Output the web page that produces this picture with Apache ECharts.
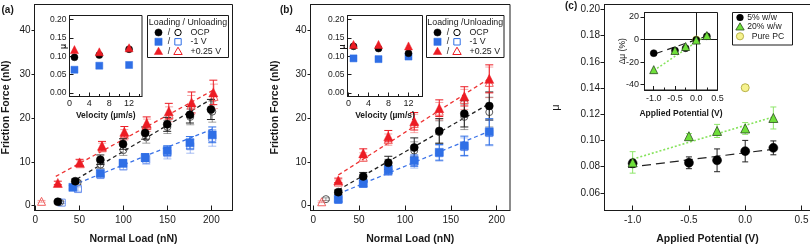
<!DOCTYPE html>
<html><head><meta charset="utf-8">
<script src="https://cdn.jsdelivr.net/npm/echarts@6/dist/echarts.min.js"></script>
<style>html,body{margin:0;padding:0;background:#fff}#c{width:810px;height:247px}</style>
</head><body><div id="c"></div>
<script>
// ================= DATA =================
// Panel (a): [normal load nN, friction nN, error nN]
const aOCP      = [[25.5,0.9,0.3],[45.3,5.6,0.5],[73.8,10.5,1.1],[99.6,14.1,1.2],[124.7,16.6,1.4],[149.8,18.6,1.6],[175.6,20.8,1.9],[199.5,22.0,2.3]];
const aOCPun    = [[28,0.8,0.3],[48,5.3,0.5],[74,9.4,0.9],[100,12.7,1.2],[126,15.6,1.3],[150,18.0,1.5],[176,20.3,1.8],[201,21.5,2.4]];
const aNeg      = [[42.6,4.2,0.4],[73.8,7.4,0.6],[99.6,9.7,0.8],[124.7,11.0,0.9],[149.8,12.6,1.1],[175.6,14.4,1.4],[201,16.2,1.8]];
const aNegUn    = [[30,0.7,0.2],[48.4,3.8,0.5],[74,7.0,0.6],[100,9.0,0.8],[126,10.5,1.0],[150,12.0,1.3],[176,13.6,1.6],[201,15.5,1.9]];
const aPos      = [[25.5,5.2,0.4],[50.2,9.9,0.7],[75.7,13.7,1.0],[101.1,16.9,1.2],[126.5,18.9,1.4],[151.6,21.6,1.8],[177.5,23.6,2.4],[202.2,25.9,2.8]];
const aPosUn    = [[7,1.0,0.2],[51,9.6,0.7],[76,13.3,1.0],[101,16.2,1.2],[127,18.4,1.4],[152,20.9,1.7],[177,23.0,2.2],[203,25.0,2.8]];
const aFitOCP   = [[47.2,6.1],[201,24.5]];
const aFitNeg   = [[49,5.2],[201,17.5]];
const aFitPos   = [[23.2,6.7],[202,26.4]];
// Panel (b)
const bOCP      = [[27.3,3.1,0.5],[54.5,6.7,0.9],[81.8,9.8,1.5],[110.1,13.3,2.2],[137.4,17.1,2.8],[164.7,21.0,3.0],[191.9,22.8,3.2]];
const bOCPun    = [[13.8,1.5,0.3],[27.3,3.0,0.5],[54.5,6.3,0.9],[81.8,9.2,1.4],[110.1,12.6,2.0],[137.4,16.8,2.6],[164.7,20.3,2.9],[191.9,21.4,3.4]];
const bNeg      = [[27.3,1.5,0.5],[54.5,5.1,0.7],[81.8,8.2,1.0],[110.1,10.3,1.3],[137.4,12.2,1.8],[164.7,13.7,2.2],[191.9,16.9,3.0]];
const bNegUn    = [[27.3,1.3,0.4],[54.5,5.0,0.7],[81.8,7.9,1.0],[110.1,10.0,1.4],[137.4,12.0,1.8],[164.7,13.4,2.1],[191.9,16.6,2.9]];
const bPos      = [[27.3,5.8,0.5],[54.5,12.0,1.0],[81.8,15.9,1.3],[110.1,19.3,2.0],[137.4,22.3,1.9],[164.7,25.0,2.2],[191.9,29.0,3.2]];
const bPosUn    = [[9.2,0.9,0.2],[27.3,5.4,0.5],[54.5,11.1,1.0],[81.8,15.1,1.3],[110.1,18.8,2.1],[137.4,21.6,2.0],[164.7,24.3,2.3],[191.9,28.2,3.5]];
const bFitOCP   = [[27.3,3.6],[192.7,23.4]];
const bFitNeg   = [[27.3,2.7],[192.7,17.1]];
const bFitPos   = [[27.3,7.0],[192.7,29.2]];
// Insets (a),(b): velocity um/s vs mu
const velocity  = [1, 6, 12];
const aInsOCP   = [0.097, 0.103, 0.119];
const aInsNeg   = [0.063, 0.074, 0.076];
const aInsPos   = [0.118, 0.112, 0.123];
const bInsOCP   = [0.127, 0.121, 0.108];
const bInsNeg   = [0.094, 0.092, 0.099];
const bInsPos   = [0.132, 0.132, 0.128];
// Panel (c)
const potential = [-1.0, -0.5, -0.25, 0.0, 0.25];
const c5mu      = [0.0826, 0.0830, 0.0849, 0.0919, 0.0944];
const c5err     = [0.003, 0.0045, 0.0087, 0.0082, 0.0053];
const c20mu     = [0.0833, 0.1033, 0.1073, 0.1092, 0.1172];
const c20err    = [0.0082, 0.002, 0.005, 0.0045, 0.0084];
const pureP     = [0.0];
const pureMu    = [0.1403];
const cFit5     = [[-1.04,0.0795],[0.237,0.0932]];
const cFit20    = [[-1.0,0.0858],[0.25,0.118]];
// Inset (c): delta mu (%)
const c5dmu     = [-12.1, -9.7, -7.7, -0.5, 2.9];
const c20dmu    = [-26.7, -9.7, -6.2, -0.5, 3.5];
const cInsFit5  = [[-0.95,-12.4],[0.25,3.0]];
const cInsFit20 = [[-1.0,-27.5],[0.25,4.0]];
// Tick labels
const abXTicks  = [0, 50, 100, 150, 200];
const abYTicks  = [0, 10, 20, 30, 40];
const insXTicks = [0, 4, 8, 12];
const insXMinor = [2, 6, 10, 14];
const insYTicks = [0, 0.05, 0.10, 0.15, 0.20];
const cXTicks   = [-1.0, -0.5, 0.0, 0.5];
const cYTicks   = [0.06, 0.08, 0.10, 0.12, 0.14, 0.16, 0.18, 0.20];
const ciXTicks  = [-1.0, -0.5, 0.0, 0.5];
const ciXMinor  = [-0.75, -0.25, 0.25];
const ciYTicks  = [-40, -20, 0, 20];

// ================= STYLE =================
const FF = '"Liberation Sans", Arial, Helvetica, sans-serif';
const INK = '#1a1a1a';
const RED = '#ec1c24', BLUE = '#2f6fe6', BLACK = '#000000';
const RED_L = 'rgba(236,60,60,0.45)', BLUE_L = 'rgba(60,110,230,0.45)', BLACK_L = 'rgba(0,0,0,0.38)';
const GREEN = '#6fe03a', GREEN_EB = '#8ee66a', YEL = '#f6f28e', YEL_B = '#b8b24a';

const grids = [
  {left:34.5,  top:4.5,  width:198,   height:206},   // a main
  {left:69.5,  top:15.5, width:72.5,  height:81},    // a inset
  {left:310.5, top:4.5,  width:199.5, height:206},   // b main
  {left:347.5, top:15.5, width:75,    height:81},    // b inset
  {left:604.5, top:4.5,  width:206,   height:206},   // c main
  {left:644.5, top:12.5, width:73,    height:77.5}   // c inset
];

function xAx(gi, min, max, ticks, o) {
  o = o || {};
  return {gridIndex:gi, type:'value', min, max, position:'bottom', z:o.z||1,
    axisLine:{show:o.line!==false, onZero:false, lineStyle:{color:INK, width:1}},
    axisTick:{show:true, inside:true, length:o.tl||5, customValues:ticks, lineStyle:{color:INK, width:1}},
    axisLabel:{show:o.label!==false, customValues:ticks, margin:o.lm||5, fontSize:o.fs||10, color:INK, fontFamily:FF, formatter:o.fmt},
    splitLine:{show:false}, minorTick:{show:false},
    name:o.name||'', nameLocation:'middle', nameGap:o.ng||23, nameMoveOverlap:false,
    nameTextStyle:{fontFamily:FF, fontWeight:'bold', fontSize:o.nfs||10.5, color:INK}};
}
function yAx(gi, min, max, ticks, o) {
  o = o || {};
  return {gridIndex:gi, type:'value', min, max, position:'left', z:o.z||1,
    axisLine:{show:true, onZero:false, lineStyle:{color:INK, width:1}},
    axisTick:{show:true, inside:!!o.inside, length:o.tl||3, customValues:ticks, lineStyle:{color:INK, width:1}},
    axisLabel:{show:true, customValues:ticks, margin:o.lm||5, fontSize:o.fs||10, color:INK, fontFamily:FF, formatter:o.fmt},
    splitLine:{show:false}, minorTick:{show:false},
    name:o.name||'', nameLocation:'middle', nameGap:o.ng||22, nameMoveOverlap:false,
    nameTextStyle:{fontFamily:FF, fontWeight:o.nfw||'bold', fontSize:o.nfs||10.5, color:INK}};
}
const f1 = v => v.toFixed(1), f2 = v => v.toFixed(2), f0 = v => String(v);

function errS(data, color, ai, z, cap) {
  return {type:'custom', xAxisIndex:ai, yAxisIndex:ai, z:z, silent:true, clip:false,
    data:data.map(d => [d[0], d[1]-d[2], d[1]+d[2]]),
    encode:{x:0, y:[1,2]},
    renderItem:function(params, api){
      const lo = api.coord([api.value(0), api.value(1)]);
      const hi = api.coord([api.value(0), api.value(2)]);
      const st = {stroke:color, lineWidth:1, fill:null};
      return {type:'group', children:[
        {type:'line', shape:{x1:lo[0], y1:lo[1], x2:hi[0], y2:hi[1]}, style:st},
        {type:'line', shape:{x1:lo[0]-cap, y1:lo[1], x2:lo[0]+cap, y2:lo[1]}, style:st},
        {type:'line', shape:{x1:hi[0]-cap, y1:hi[1], x2:hi[0]+cap, y2:hi[1]}, style:st}]};
    }};
}
function sc(data, symbol, size, color, open, ai, z, border, bw) {
  return {type:'scatter', xAxisIndex:ai, yAxisIndex:ai, z:z, symbol, symbolSize:size, silent:true,
    data:data.map(d => [d[0], d[1]]),
    itemStyle: open ? {color:'rgba(255,255,255,0)', borderColor:color, borderWidth:1, opacity:1}
                    : {color:color, borderColor:border||color, borderWidth:bw==null?0.5:bw, opacity:1}};
}
function fit(pts, color, dash, width, ai, z) {
  return {type:'line', xAxisIndex:ai, yAxisIndex:ai, z:z, data:pts, symbol:'none', silent:true,
    lineStyle:{color, type:dash, width}};
}
const zip = (xs, ys) => xs.map((x,i) => [x, ys[i]]);
const zip3 = (xs, ys, es) => xs.map((x,i) => [x, ys[i], es[i]]);

function mainABSeries(ai, ocp, ocpUn, neg, negUn, pos, posUn, fO, fN, fP) {
  return [
    errS(ocpUn, BLACK_L, ai, 2, 4), errS(negUn, BLUE_L, ai, 2, 4), errS(posUn, RED_L, ai, 2, 4),
    sc(ocpUn, 'circle', 7, '#555', true, ai, 3), sc(negUn, 'rect', 7, '#6f95ee', true, ai, 3), sc(posUn, 'triangle', 8, '#f06060', true, ai, 3),
    fit(fO, '#222', [4,3], 1.3, ai, 3), fit(fN, '#3a72e8', [4,3], 1.3, ai, 3), fit(fP, '#ee3333', [4,3], 1.3, ai, 3),
    errS(ocp, '#222', ai, 4, 4), errS(neg, BLUE, ai, 4, 4), errS(pos, RED, ai, 4, 4),
    sc(neg, 'rect', 8, BLUE, false, ai, 5), sc(ocp, 'circle', 8, BLACK, false, ai, 5), sc(pos, 'triangle', 9, RED, false, ai, 6)
  ];
}
function insetSeries(ai, ocp, neg, pos) {
  return [
    sc(zip(velocity, neg), 'rect', 7, BLUE, false, ai, 8),
    sc(zip(velocity, ocp), 'circle', 7, BLACK, false, ai, 8),
    sc(zip(velocity, pos), 'triangle', 8, RED, false, ai, 9)
  ];
}

const series = [].concat(
  mainABSeries(0, aOCP, aOCPun, aNeg, aNegUn, aPos, aPosUn, aFitOCP, aFitNeg, aFitPos),
  insetSeries(1, aInsOCP, aInsNeg, aInsPos),
  mainABSeries(2, bOCP, bOCPun, bNeg, bNegUn, bPos, bPosUn, bFitOCP, bFitNeg, bFitPos),
  insetSeries(3, bInsOCP, bInsNeg, bInsPos),
  [
    fit(cFit5, '#222', [9,5], 1.2, 4, 2),
    fit(cFit20, '#86e35c', [2,2], 1.6, 4, 2),
    errS(zip3(potential, c5mu, c5err), '#222', 4, 3, 3),
    errS(zip3(potential, c20mu, c20err), GREEN_EB, 4, 3, 3),
    sc(zip(potential, c5mu), 'circle', 9, BLACK, false, 4, 4),
    sc(zip(potential, c20mu), 'triangle', 9, GREEN, false, 4, 5, '#2b4a1f', 0.8),
    sc(zip(pureP, pureMu), 'circle', 8, YEL, false, 4, 5, YEL_B, 1),
    Object.assign(fit(cInsFit5, '#222', [7,5], 1.2, 5, 8), {markLine:{silent:true, symbol:'none', label:{show:false},
      lineStyle:{color:INK, type:'solid', width:1}, data:[{xAxis:0},{yAxis:0}]}}),
    fit(cInsFit20, '#86e35c', [2,2], 1.5, 5, 8),
    sc([[0,0]], 'circle', 7, YEL, false, 5, 8, YEL_B, 1),
    sc(zip(potential, c5dmu), 'circle', 7, BLACK, false, 5, 9),
    sc(zip(potential, c20dmu), 'triangle', 8, GREEN, false, 5, 10, '#2b4a1f', 0.8)
  ]
);

// ================= LEGENDS (graphic) =================
function txt(x, y, s, align, font, extra) {
  return Object.assign({type:'text', x, y, z:100, silent:true,
    style:{text:s, font:font||('8.8px ' + FF), fill:INK, align:align||'left', verticalAlign:'middle'}}, extra||{});
}
function mark(kind, x, y, color, open) {
  const st = open ? {fill:'rgba(255,255,255,0)', stroke:color, lineWidth:1} : {fill:color, stroke:color, lineWidth:0.5};
  if (kind === 'circle') return {type:'circle', z:100, silent:true, shape:{cx:x, cy:y, r:open?3.2:3.6}, style:st};
  if (kind === 'rect') { const h = open?3.2:3.6; return {type:'rect', z:100, silent:true, shape:{x:x-h, y:y-h, width:2*h, height:2*h}, style:st}; }
  return {type:'polygon', z:100, silent:true, shape:{points:[[x, y-4], [x+4.2, y+3.3], [x-4.2, y+3.3]]}, style:st};
}
function legendAB(x, y, w, h, title) {
  const els = [{type:'rect', z:99, silent:true, shape:{x, y, width:w, height:h}, style:{fill:'#fff', stroke:INK, lineWidth:1}}];
  els.push(txt(x + w/2, y + 7, title, 'center'));
  const rows = [[17, 'OCP', BLACK, 'circle'], [26.3, '-1 V', BLUE, 'rect'], [35.7, '+0.25 V', RED, 'tri']];
  rows.forEach(r => {
    const yy = y + r[0];
    els.push(mark(r[3], x + 11, yy, r[2], false));
    els.push(txt(x + 21.5, yy, '/', 'center'));
    els.push(mark(r[3], x + 30.5, yy, r[2], true));
    els.push(txt(x + 43, yy, r[1], 'left'));
  });
  return els;
}
const legC = [
  {type:'rect', z:99, silent:true, shape:{x:732.5, y:12.5, width:60, height:32.5}, style:{fill:'#fff', stroke:INK, lineWidth:1}},
  {type:'circle', z:100, silent:true, shape:{cx:740, cy:17.5, r:3.6}, style:{fill:BLACK}},
  txt(747.3, 17.5, '5% w/w', 'left', '8.6px ' + FF),
  {type:'polygon', z:100, silent:true, shape:{points:[[740,22.8],[744.2,30],[735.8,30]]}, style:{fill:GREEN, stroke:'#2b4a1f', lineWidth:0.8}},
  txt(747.3, 26.8, '20% w/w', 'left', '8.6px ' + FF),
  {type:'circle', z:100, silent:true, shape:{cx:740, cy:36.3, r:3.6}, style:{fill:YEL, stroke:YEL_B, lineWidth:1}},
  txt(751.7, 36.3, 'Pure PC', 'left', '8.6px ' + FF)
];
const bold10 = 'bold 10px ' + FF;
const graphic = [].concat(
  legendAB(147.5, 15.5, 81, 42, 'Loading / Unloading'),
  legendAB(426.5, 15.5, 77.5, 42, 'Loading /Unloading'),
  legC,
  [txt(1.5, 10, '(a)', 'left', bold10), txt(280, 10, '(b)', 'left', bold10), txt(565, 6, '(c)', 'left', bold10),
   txt(64, 46.5, 'μ', 'center', 'bold 9px ' + FF, {rotation:Math.PI/2}),
   txt(343, 47, 'μ', 'center', 'bold 9px ' + FF, {rotation:Math.PI/2})]
);

// ================= AXES =================
const insXo = {tl:4, lm:3, fs:9, z:6, name:'Velocity (µm/s)', ng:15, nfs:8.5, fmt:f0};
const insYo = {tl:4, lm:3, fs:8.5, z:6, inside:true, fmt:f2};
const xAxis = [
  xAx(0, -1, 224, abXTicks, {name:'Normal Load (nN)', fmt:f0}),
  xAx(1, 0, 14.6, insXTicks, insXo),
  xAx(2, -3, 214.5, abXTicks, {name:'Normal Load (nN)', fmt:f0}),
  xAx(3, -0.2, 14.8, insXTicks, insXo),
  xAx(4, -1.25, 0.58, cXTicks, {name:'Applied Potential (V)', fmt:f1}),
  xAx(5, -1.217, 0.5, ciXTicks, {tl:4, lm:4, fs:9, z:6, name:'Applied Potential (V)', ng:19, nfs:8.5, fmt:f1}),
  // minor ticks for insets
  xAx(1, 0, 14.6, insXMinor, {tl:2.5, z:6, line:false, label:false}),
  xAx(3, -0.2, 14.8, insXMinor, {tl:2.5, z:6, line:false, label:false}),
  xAx(5, -1.217, 0.5, ciXMinor, {tl:2.5, z:6, line:false, label:false})
];
const yAxis = [
  yAx(0, -1.1, 46, abYTicks, {name:'Friction Force (nN)', ng:22.5, fmt:f0, lm:4}),
  yAx(1, -0.01, 0.211, insYTicks, insYo),
  yAx(2, -1.1, 46, abYTicks, {name:'Friction Force (nN)', ng:29.5, fmt:f0, lm:4}),
  yAx(3, -0.01, 0.211, insYTicks, insYo),
  yAx(4, 0.0466, 0.2038, cYTicks, {name:'μ', ng:43.5, nfw:'normal', nfs:11, fmt:f2, tl:4, lm:4.5}),
  yAx(5, -44.7, 23.9, ciYTicks, {tl:4, lm:5.5, fs:9, z:6, name:'Δμ (%)', ng:17, nfs:8.5, nfw:'normal', fmt:f0})
];

const option = {
  animation:false,
  backgroundColor:'#fff',
  textStyle:{fontFamily:FF},
  grid:grids.map((g, i) => Object.assign({show:true, borderColor:INK, borderWidth:1,
    backgroundColor:(i % 2 === 1) ? '#fff' : 'rgba(0,0,0,0)', z:(i % 2 === 1) ? 5 : 0,
    containLabel:false, outerBoundsMode:'none'}, g)),
  xAxis, yAxis, series, graphic
};
const chart = echarts.init(document.getElementById('c'), null, {renderer:'canvas'});
chart.setOption(option);
</script></body></html>
